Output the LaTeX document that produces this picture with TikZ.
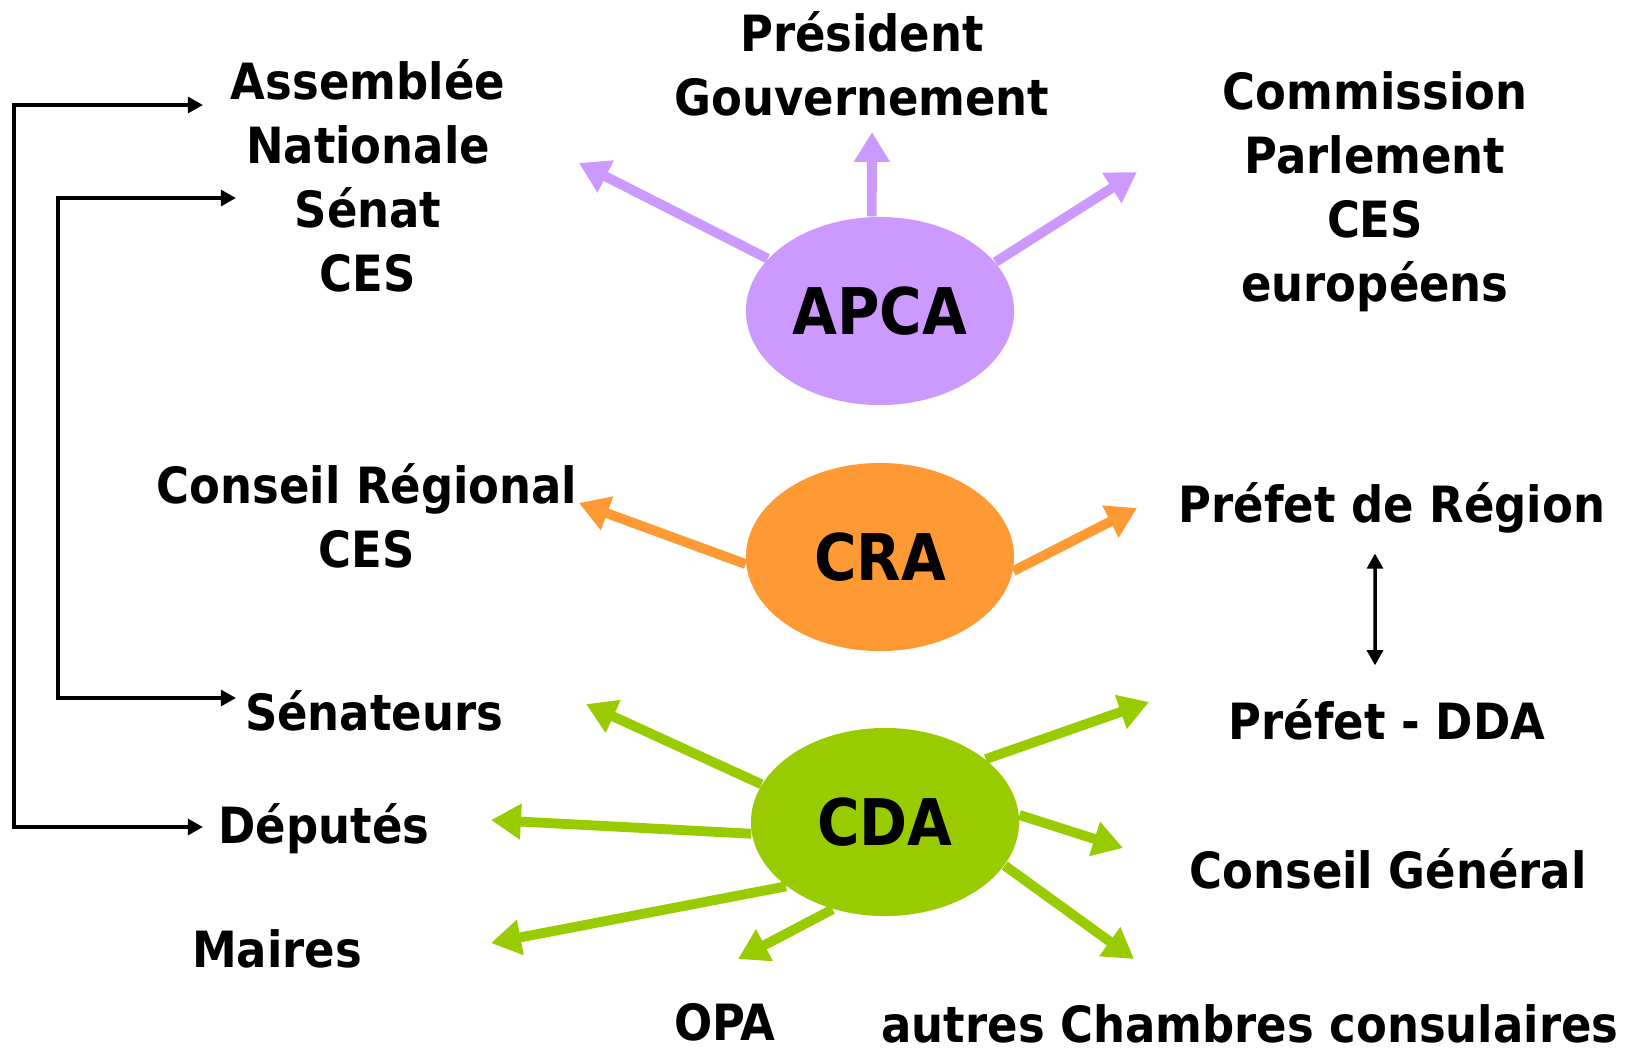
\documentclass[tikz,border=0pt]{standalone}
\usepackage{fontspec}
\setmainfont{DejaVu Sans Condensed}
\usetikzlibrary{arrows.meta,shapes.geometric}
\definecolor{apcaviolet}{HTML}{CC99FF}
\definecolor{craorange}{HTML}{FF9933}
\definecolor{cdagreen}{HTML}{99CC00}

\begin{document}
\begin{tikzpicture}[x=0.01cm,y=-0.01cm,
    lbl/.style={font=\fontsize{14.2}{18.2}\selectfont\bfseries,align=center,inner sep=0pt},
    hub/.style={ellipse,minimum width=2.68cm,minimum height=1.88cm,inner sep=0pt,
        font=\fontsize{18.3}{20}\selectfont\bfseries},
    spoke/.style={line width=2.8pt,-{Triangle[length=8.5pt,width=9.7pt]}},
    duo/.style={line width=1pt,{Triangle[length=4.3pt,width=4.5pt]}-{Triangle[length=4.3pt,width=4.5pt]}}]
    \useasboundingbox (0,0) rectangle (1631,1056);

    \node[hub,fill=apcaviolet] (apca) at (880,311) {APCA};
    \node[hub,fill=craorange] (cra) at (880,557) {CRA};
    \node[hub,fill=cdagreen] (cda) at (885,822) {CDA};

    \node[lbl] (an) at (368,176) {Assemblée\\Nationale\\Sénat\\CES};
    \node[lbl] (pg) at (862,64) {Président\\Gouvernement};
    \node[lbl] (ce) at (1375,192) {Commission\\Parlement\\CES\\européens};
    \node[lbl] (cr) at (367,516) {Conseil Régional\\CES};
    \node[lbl,anchor=base] (prefreg) at (1392,522) {Préfet de Région};
    \node[lbl,anchor=base] (prefdda) at (1387,739) {Préfet - DDA};
    \node[lbl,anchor=base] (cg) at (1388,888) {Conseil Général};
    \node[lbl,anchor=base] (autres) at (1250,1042) {autres Chambres consulaires};
    \node[lbl,anchor=base] (opa) at (725,1040) {OPA};
    \node[lbl,anchor=base] (maires) at (277,967) {Maires};
    \node[lbl,anchor=base] (deputes) at (324,843) {Députés};
    \node[lbl,anchor=base] (senateurs) at (374,730) {Sénateurs};

    \coordinate (apcaL) at (579,163);
    \coordinate (apcaU) at (872,132);
    \coordinate (apcaR) at (1137,172);
    \draw[spoke,apcaviolet] (apca.155) -- (apcaL);
    \draw[spoke,apcaviolet] (apca.95) -- (apcaU);
    \draw[spoke,apcaviolet] (apca.23) -- (apcaR);

    \coordinate (craL) at (579,503);
    \coordinate (craR) at (1137,508);
    \draw[spoke,craorange] (cra.183) -- (craL);
    \draw[spoke,craorange] (cra.354) -- (craR);

    \coordinate (cdaSnt) at (586,704);
    \coordinate (cdaDep) at (491,820);
    \coordinate (cdaMai) at (491,943);
    \coordinate (cdaOpa) at (738,959);
    \coordinate (cdaDda) at (1149,702);
    \coordinate (cdaCg) at (1123,848);
    \coordinate (cdaAut) at (1134,959);
    \draw[spoke,cdagreen] (cda.163) -- (cdaSnt);
    \draw[spoke,cdagreen] (cda.185) -- (cdaDep);
    \draw[spoke,cdagreen] (cda.213) -- (cdaMai);
    \draw[spoke,cdagreen] (cda.239) -- (cdaOpa);
    \draw[spoke,cdagreen] (cda.32) -- (cdaDda);
    \draw[spoke,cdagreen] (cda.3) -- (cdaCg);
    \draw[spoke,cdagreen] (cda.340) -- (cdaAut);

    \coordinate (anTip) at (203,105);
    \coordinate (depTip) at (203,827);
    \coordinate (senTip) at (236,198);
    \coordinate (sntTip) at (236,698);
    \draw[duo] (anTip) -- ++(-189,0) |- (depTip);
    \draw[duo] (senTip) -- ++(-178,0) |- (sntTip);
    \draw[duo,shorten <=0.2cm,shorten >=0.33cm] ([xshift=-0.17cm]prefreg.south) -- ([xshift=-0.12cm]prefdda.north);
\end{tikzpicture}
\end{document}
